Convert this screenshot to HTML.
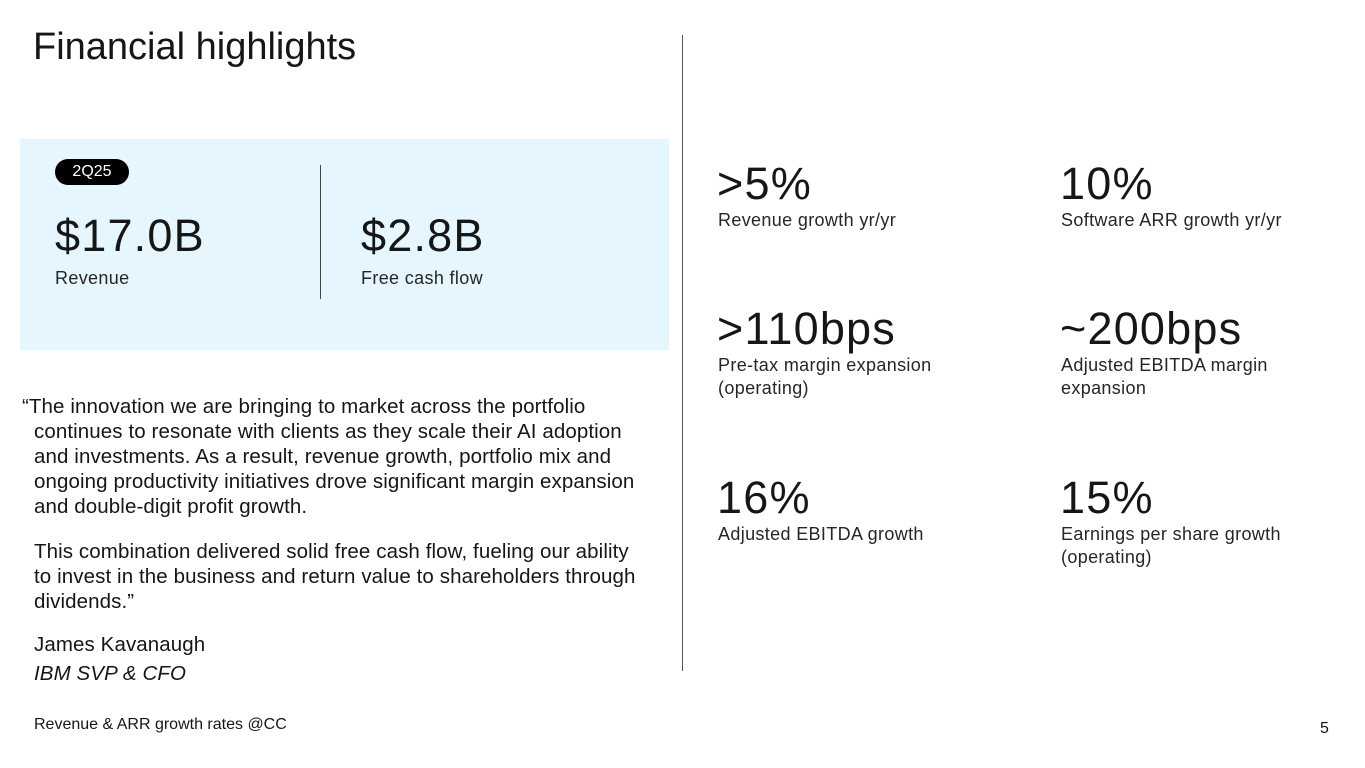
<!DOCTYPE html>
<html><head><meta charset="utf-8"><style>
body{margin:0;width:1365px;height:768px;background:#fff;position:relative;overflow:hidden;font-family:"Liberation Sans",sans-serif;color:#161616}
.a{position:absolute;white-space:nowrap}
.big{font-size:45px;font-weight:300;letter-spacing:1.2px}
.lbl{font-size:18px;line-height:23px;color:#262626;letter-spacing:0.35px}
.q{font-size:20.5px;line-height:25px;color:#161616;letter-spacing:0.1px}
</style></head><body>
<div class="a" style="left:33px;top:26px;font-size:38px;font-weight:300">Financial highlights</div>
<div class="a" style="left:682px;top:35px;width:1px;height:636px;background:#555"></div>
<div class="a" style="left:20px;top:139px;width:649px;height:211px;background:#e5f6ff"></div>
<div class="a" style="left:55px;top:159px;width:74px;height:26px;border-radius:13px;background:#000;color:#fff;font-size:16px;line-height:26px;text-align:center">2Q25</div>
<div class="a big" style="left:55px;top:210px">$17.0B</div>
<div class="a lbl" style="left:55px;top:267px">Revenue</div>
<div class="a" style="left:320px;top:165px;width:1px;height:134px;background:#444"></div>
<div class="a big" style="left:361px;top:210px">$2.8B</div>
<div class="a lbl" style="left:361px;top:267px">Free cash flow</div>
<div class="a q" style="left:22px;top:394px">“The innovation we are bringing to market across the portfolio</div>
<div class="a q" style="left:34px;top:419px">continues to resonate with clients as they scale their AI adoption<br>and investments. As a result, revenue growth, portfolio mix and<br>ongoing productivity initiatives drove significant margin expansion<br>and double-digit profit growth.</div>
<div class="a q" style="left:34px;top:539px">This combination delivered solid free cash flow, fueling our ability<br>to invest in the business and return value to shareholders through<br>dividends.”</div>
<div class="a q" style="left:34px;top:632px">James Kavanaugh</div>
<div class="a q" style="left:34px;top:661px;font-style:italic">IBM SVP &amp; CFO</div>
<div class="a" style="left:34px;top:716px;font-size:16px">Revenue &amp; ARR growth rates @CC</div>
<div class="a" style="left:1320px;top:720px;font-size:16px">5</div>

<div class="a big" style="left:717px;top:158px">&gt;5%</div>
<div class="a lbl" style="left:718px;top:209px">Revenue growth yr/yr</div>
<div class="a big" style="left:1060px;top:158px">10%</div>
<div class="a lbl" style="left:1061px;top:209px">Software ARR growth yr/yr</div>
<div class="a big" style="left:717px;top:303px">&gt;110bps</div>
<div class="a lbl" style="left:718px;top:354px">Pre-tax margin expansion<br>(operating)</div>
<div class="a big" style="left:1060px;top:303px">~200bps</div>
<div class="a lbl" style="left:1061px;top:354px">Adjusted EBITDA margin<br>expansion</div>
<div class="a big" style="left:717px;top:472px">16%</div>
<div class="a lbl" style="left:718px;top:523px">Adjusted EBITDA growth</div>
<div class="a big" style="left:1060px;top:472px">15%</div>
<div class="a lbl" style="left:1061px;top:523px">Earnings per share growth<br>(operating)</div>
</body></html>
